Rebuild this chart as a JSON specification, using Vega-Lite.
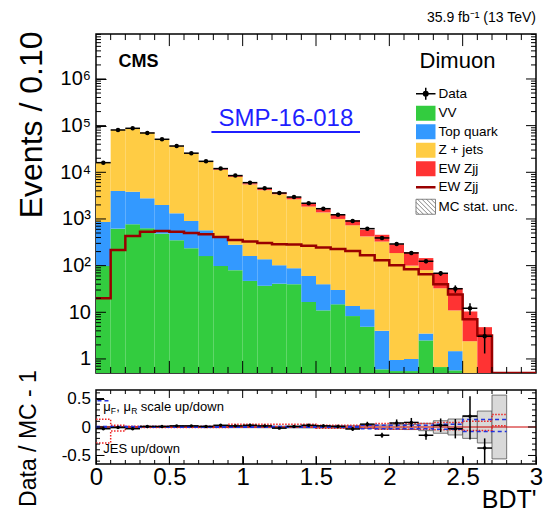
{
"$schema": "https://vega.github.io/schema/vega-lite/v6.json",
"background": "white",
"padding": {"left": 14, "top": 10, "right": 5, "bottom": 2},
"spacing": -7,
"config": {
  "font": "Liberation Sans",
  "view": {"stroke": "black", "strokeWidth": 1.5},
  "axis": {"domain": false, "grid": false, "zindex": 1, "tickColor": "black", "tickWidth": 1, "labelColor": "black", "titleColor": "black", "labelFont": "Liberation Sans", "titleFont": "Liberation Sans", "titleFontWeight": "normal", "labelFlush": false, "labelOverlap": false},
  "title": {"font": "Liberation Sans", "color": "black"}
},
"datasets": {
  "top": [
    {"lo":0.0,"hi":0.1,"c":0.05,"vv":98,"top":765,"zj":15517,"ew":20,"ewl":20,"n":16100,"nlo":15973,"nhi":16227},
    {"lo":0.1,"hi":0.2,"c":0.15,"vv":620,"top":3360,"zj":76800,"ew":217,"ewl":217,"n":80700,"nlo":80416,"nhi":80984},
    {"lo":0.2,"hi":0.3,"c":0.25,"vv":770,"top":3080,"zj":84200,"ew":432,"ewl":432,"n":87700,"nlo":87404,"nhi":87996},
    {"lo":0.3,"hi":0.4,"c":0.35,"vv":630,"top":2140,"zj":67200,"ew":535,"ewl":535,"n":69600,"nlo":69336,"nhi":69864},
    {"lo":0.4,"hi":0.5,"c":0.45,"vv":485,"top":1515,"zj":48450,"ew":553,"ewl":553,"n":51000,"nlo":50774,"nhi":51226},
    {"lo":0.5,"hi":0.6,"c":0.55,"vv":350,"top":970,"zj":34745,"ew":535,"ewl":535,"n":36600,"nlo":36409,"nhi":36791},
    {"lo":0.6,"hi":0.7,"c":0.65,"vv":236,"top":669,"zj":24295,"ew":500,"ewl":500,"n":25700,"nlo":25540,"nhi":25860},
    {"lo":0.7,"hi":0.8,"c":0.75,"vv":160,"top":412,"zj":16000,"ew":470,"ewl":470,"n":17200,"nlo":17069,"nhi":17331},
    {"lo":0.8,"hi":0.9,"c":0.85,"vv":98,"top":313,"zj":10828,"ew":411,"ewl":411,"n":12000,"nlo":11890,"nhi":12110},
    {"lo":0.9,"hi":1.0,"c":0.95,"vv":80,"top":200,"zj":7695,"ew":355,"ewl":355,"n":8500,"nlo":8408,"nhi":8592},
    {"lo":1.0,"hi":1.1,"c":1.05,"vv":47,"top":114,"zj":5337,"ew":327,"ewl":327,"n":6000,"nlo":5923,"nhi":6077},
    {"lo":1.1,"hi":1.2,"c":1.15,"vv":37,"top":100,"zj":4007,"ew":306,"ewl":306,"n":4540,"nlo":4473,"nhi":4607},
    {"lo":1.2,"hi":1.3,"c":1.25,"vv":41,"top":61,"zj":3284,"ew":287,"ewl":287,"n":3600,"nlo":3540,"nhi":3660},
    {"lo":1.3,"hi":1.4,"c":1.35,"vv":40,"top":48,"zj":2550,"ew":282,"ewl":282,"n":2950,"nlo":2896,"nhi":3004},
    {"lo":1.4,"hi":1.5,"c":1.45,"vv":16.6,"top":43.4,"zj":1781,"ew":266,"ewl":266,"n":2170,"nlo":2123,"nhi":2217},
    {"lo":1.5,"hi":1.6,"c":1.55,"vv":11,"top":29,"zj":1341,"ew":246,"ewl":246,"n":1660,"nlo":1619,"nhi":1701},
    {"lo":1.6,"hi":1.7,"c":1.65,"vv":14.8,"top":15.2,"zj":972,"ew":228,"ewl":228,"n":1230,"nlo":1195,"nhi":1265},
    {"lo":1.7,"hi":1.8,"c":1.75,"vv":8.3,"top":5.4,"zj":718,"ew":206,"ewl":206,"n":905,"nlo":875,"nhi":935},
    {"lo":1.8,"hi":1.9,"c":1.85,"vv":4.9,"top":6.7,"zj":411,"ew":167,"ewl":167,"n":620,"nlo":595,"nhi":645},
    {"lo":1.9,"hi":2.0,"c":1.95,"vv":0.6,"top":3.4,"zj":324,"ew":130,"ewl":130,"n":392,"nlo":372,"nhi":412},
    {"lo":2.0,"hi":2.1,"c":2.05,"vv":0.55,"top":0.4,"zj":185,"ew":102,"ewl":102,"n":291,"nlo":274,"nhi":308},
    {"lo":2.1,"hi":2.2,"c":2.15,"vv":0.55,"top":0.45,"zj":99,"ew":95,"ewl":84,"n":187,"nlo":173,"nhi":201},
    {"lo":2.2,"hi":2.3,"c":2.25,"vv":2.5,"top":1.0,"zj":76.5,"ew":65,"ewl":65,"n":124,"nlo":113,"nhi":135},
    {"lo":2.3,"hi":2.4,"c":2.35,"vv":0.67,"zj":32,"ew":34,"ewl":40,"n":68.5,"nlo":60.2,"nhi":76.8},
    {"lo":2.4,"hi":2.5,"c":2.45,"vv":0.57,"top":0.9,"zj":9.5,"ew":22,"ewl":24,"n":32,"nlo":26.3,"nhi":37.7},
    {"lo":2.5,"hi":2.6,"c":2.55,"zj":2.4,"ew":8.0,"ewl":7.1,"n":12.2,"nlo":8.7,"nhi":15.7},
    {"lo":2.6,"hi":2.7,"c":2.65,"zj":0.2,"ew":4.6,"ewl":3.2,"n":3.06,"nlo":1.31,"nhi":4.8},
    {"lo":2.7,"ewl":0.01},
    {"lo":2.8,"ewl":0.01},
    {"lo":2.9,"ewl":0.01},
    {"lo":3.0,"ewl":0.01}
  ],
  "ratio": [
    {"lo":0.0,"hi":0.1,"c":0.05,"r":-0.03,"rlo":-0.038,"rhi":-0.022,"slo":-0.01,"shi":0.01},
    {"lo":0.1,"hi":0.2,"c":0.15,"r":-0.01,"rlo":-0.014,"rhi":-0.006,"slo":-0.008,"shi":0.008},
    {"lo":0.2,"hi":0.3,"c":0.25,"r":-0.03,"rlo":-0.034,"rhi":-0.026,"slo":-0.008,"shi":0.008},
    {"lo":0.3,"hi":0.4,"c":0.35,"r":0.01,"rlo":0.006,"rhi":0.014,"slo":-0.008,"shi":0.008},
    {"lo":0.4,"hi":0.5,"c":0.45,"r":0.01,"rlo":0.005,"rhi":0.015,"slo":-0.008,"shi":0.008},
    {"lo":0.5,"hi":0.6,"c":0.55,"r":0.02,"rlo":0.015,"rhi":0.025,"slo":-0.008,"shi":0.008},
    {"lo":0.6,"hi":0.7,"c":0.65,"r":0.02,"rlo":0.014,"rhi":0.026,"slo":-0.008,"shi":0.008},
    {"lo":0.7,"hi":0.8,"c":0.75,"r":0.01,"rlo":0.002,"rhi":0.018,"slo":-0.01,"shi":0.01},
    {"lo":0.8,"hi":0.9,"c":0.85,"r":0.03,"rlo":0.021,"rhi":0.039,"slo":-0.01,"shi":0.01},
    {"lo":0.9,"hi":1.0,"c":0.95,"r":0.02,"rlo":0.009,"rhi":0.031,"slo":-0.012,"shi":0.012},
    {"lo":1.0,"hi":1.1,"c":1.05,"r":0.03,"rlo":0.017,"rhi":0.043,"slo":-0.012,"shi":0.012},
    {"lo":1.1,"hi":1.2,"c":1.15,"r":0.02,"rlo":0.005,"rhi":0.035,"slo":-0.013,"shi":0.013},
    {"lo":1.2,"hi":1.3,"c":1.25,"r":-0.02,"rlo":-0.037,"rhi":-0.003,"slo":-0.014,"shi":0.014},
    {"lo":1.3,"hi":1.4,"c":1.35,"r":0.01,"rlo":-0.008,"rhi":0.028,"slo":-0.015,"shi":0.015},
    {"lo":1.4,"hi":1.5,"c":1.45,"r":0.03,"rlo":0.009,"rhi":0.051,"slo":-0.016,"shi":0.016},
    {"lo":1.5,"hi":1.6,"c":1.55,"r":0.02,"rlo":-0.005,"rhi":0.045,"slo":-0.018,"shi":0.018},
    {"lo":1.6,"hi":1.7,"c":1.65,"r":0.01,"rlo":-0.019,"rhi":0.039,"slo":-0.02,"shi":0.02},
    {"lo":1.7,"hi":1.8,"c":1.75,"r":-0.035,"rlo":-0.068,"rhi":-0.002,"slo":-0.022,"shi":0.022},
    {"lo":1.8,"hi":1.9,"c":1.85,"r":0.05,"rlo":0.008,"rhi":0.092,"slo":-0.025,"shi":0.025},
    {"lo":1.9,"hi":2.0,"c":1.95,"r":-0.145,"rlo":-0.188,"rhi":-0.102,"slo":-0.035,"shi":0.035},
    {"lo":2.0,"hi":2.1,"c":2.05,"r":0.07,"rlo":0.007,"rhi":0.133,"slo":-0.04,"shi":0.04},
    {"lo":2.1,"hi":2.2,"c":2.15,"r":0.08,"rlo":0.001,"rhi":0.159,"slo":-0.045,"shi":0.045},
    {"lo":2.2,"hi":2.3,"c":2.25,"r":-0.145,"rlo":-0.222,"rhi":-0.068,"slo":-0.065,"shi":0.065},
    {"lo":2.3,"hi":2.4,"c":2.35,"r":0.03,"rlo":-0.09,"rhi":0.15,"slo":-0.11,"shi":0.11},
    {"lo":2.4,"hi":2.5,"c":2.45,"r":-0.03,"rlo":-0.2,"rhi":0.14,"slo":-0.14,"shi":0.14},
    {"lo":2.5,"hi":2.6,"c":2.55,"r":0.19,"rlo":-0.22,"rhi":0.54,"slo":-0.2,"shi":0.2},
    {"lo":2.6,"hi":2.7,"c":2.65,"r":-0.37,"rlo":-0.9,"rhi":-0.2,"slo":-0.28,"shi":0.28},
    {"lo":2.7,"hi":2.8,"c":2.75,"r":null,"rlo":null,"rhi":null,"slo":-0.56,"shi":0.56}
  ],
  "syst": [
    {"line":"jesup","x":0.0,"r":0.135},{"line":"jesup","x":0.1,"r":0.03},{"line":"jesup","x":0.2,"r":0.015},{"line":"jesup","x":0.9,"r":0.05},{"line":"jesup","x":1.5,"r":0.03},{"line":"jesup","x":1.9,"r":0.06},{"line":"jesup","x":2.3,"r":0.08},{"line":"jesup","x":2.5,"r":0.1},{"line":"jesup","x":2.7,"r":0.22},{"line":"jesup","x":2.8,"r":0.22},
    {"line":"jesdn","x":0.0,"r":-0.28},{"line":"jesdn","x":0.1,"r":-0.07},{"line":"jesdn","x":0.2,"r":-0.01},{"line":"jesdn","x":0.9,"r":0.0},{"line":"jesdn","x":1.5,"r":-0.02},{"line":"jesdn","x":1.9,"r":-0.04},{"line":"jesdn","x":2.3,"r":-0.05},{"line":"jesdn","x":2.5,"r":-0.06},{"line":"jesdn","x":2.7,"r":0.02},{"line":"jesdn","x":2.8,"r":0.02},
    {"line":"scup","x":0.0,"r":0.008},{"line":"scup","x":1.8,"r":0.03},{"line":"scup","x":2.3,"r":0.05},{"line":"scup","x":2.5,"r":0.13},{"line":"scup","x":2.8,"r":0.13},
    {"line":"scdn","x":0.0,"r":-0.005},{"line":"scdn","x":1.8,"r":-0.03},{"line":"scdn","x":2.3,"r":-0.04},{"line":"scdn","x":2.5,"r":-0.08},{"line":"scdn","x":2.8,"r":-0.08}
  ],
  "xt": [
    {"v":0.5,"k":"M"},{"v":1,"k":"M"},{"v":1.5,"k":"M"},{"v":2,"k":"M"},{"v":2.5,"k":"M"},
    {"v":0.1,"k":"m"},{"v":0.2,"k":"m"},{"v":0.3,"k":"m"},{"v":0.4,"k":"m"},{"v":0.6,"k":"m"},{"v":0.7,"k":"m"},{"v":0.8,"k":"m"},{"v":0.9,"k":"m"},
    {"v":1.1,"k":"m"},{"v":1.2,"k":"m"},{"v":1.3,"k":"m"},{"v":1.4,"k":"m"},{"v":1.6,"k":"m"},{"v":1.7,"k":"m"},{"v":1.8,"k":"m"},{"v":1.9,"k":"m"},
    {"v":2.1,"k":"m"},{"v":2.2,"k":"m"},{"v":2.3,"k":"m"},{"v":2.4,"k":"m"},{"v":2.6,"k":"m"},{"v":2.7,"k":"m"},{"v":2.8,"k":"m"},{"v":2.9,"k":"m"}
  ],
  "yt": [
    {"v":1,"k":"M"},{"v":10,"k":"M"},{"v":100,"k":"M"},{"v":1000,"k":"M"},{"v":10000,"k":"M"},{"v":100000,"k":"M"},{"v":1000000,"k":"M"},
    {"v":0.6,"k":"m"},{"v":0.7,"k":"m"},{"v":0.8,"k":"m"},{"v":0.9,"k":"m"},
    {"v":2,"k":"m"},{"v":3,"k":"m"},{"v":4,"k":"m"},{"v":5,"k":"m"},{"v":6,"k":"m"},{"v":7,"k":"m"},{"v":8,"k":"m"},{"v":9,"k":"m"},
    {"v":20,"k":"m"},{"v":30,"k":"m"},{"v":40,"k":"m"},{"v":50,"k":"m"},{"v":60,"k":"m"},{"v":70,"k":"m"},{"v":80,"k":"m"},{"v":90,"k":"m"},
    {"v":200,"k":"m"},{"v":300,"k":"m"},{"v":400,"k":"m"},{"v":500,"k":"m"},{"v":600,"k":"m"},{"v":700,"k":"m"},{"v":800,"k":"m"},{"v":900,"k":"m"},
    {"v":2000,"k":"m"},{"v":3000,"k":"m"},{"v":4000,"k":"m"},{"v":5000,"k":"m"},{"v":6000,"k":"m"},{"v":7000,"k":"m"},{"v":8000,"k":"m"},{"v":9000,"k":"m"},
    {"v":20000,"k":"m"},{"v":30000,"k":"m"},{"v":40000,"k":"m"},{"v":50000,"k":"m"},{"v":60000,"k":"m"},{"v":70000,"k":"m"},{"v":80000,"k":"m"},{"v":90000,"k":"m"},
    {"v":200000,"k":"m"},{"v":300000,"k":"m"},{"v":400000,"k":"m"},{"v":500000,"k":"m"},{"v":600000,"k":"m"},{"v":700000,"k":"m"},{"v":800000,"k":"m"},{"v":900000,"k":"m"},
    {"v":2000000,"k":"m"},{"v":3000000,"k":"m"},{"v":4000000,"k":"m"},{"v":5000000,"k":"m"},{"v":6000000,"k":"m"},{"v":7000000,"k":"m"},{"v":8000000,"k":"m"},{"v":9000000,"k":"m"}
  ],
  "rt": [
    {"v":-0.5,"k":"M"},{"v":0,"k":"M"},{"v":0.5,"k":"M"},
    {"v":-0.6,"k":"m"},{"v":-0.4,"k":"m"},{"v":-0.3,"k":"m"},{"v":-0.2,"k":"m"},{"v":-0.1,"k":"m"},{"v":0.1,"k":"m"},{"v":0.2,"k":"m"},{"v":0.3,"k":"m"},{"v":0.4,"k":"m"},{"v":0.6,"k":"m"}
  ]
},
"vconcat": [
  {
    "width": 440, "height": 339,
    "title": {"text": "35.9 fb⁻¹ (13 TeV)", "anchor": "end", "frame": "group", "fontSize": 14, "fontWeight": "normal", "offset": 6},
    "resolve": {"axis": {"x": "independent", "y": "independent"}},
    "layer": [
      {
        "data": {"name": "top"},
        "transform": [
          {"fold": ["vv", "top", "zj", "ew"], "as": ["comp", "value"]},
          {"filter": "datum.value > 0"},
          {"stack": "value", "groupby": ["lo"], "as": ["y0", "y1"]}
        ],
        "mark": {"type": "rect", "clip": true},
        "encoding": {
          "x": {"field": "lo", "type": "quantitative", "scale": {"domain": [0, 3], "nice": false, "zero": false}, "axis": null},
          "x2": {"field": "hi"},
          "y": {"field": "y1", "type": "quantitative",
                "scale": {"type": "log", "domain": [0.5, 9200000], "nice": false, "clamp": true},
                "axis": {"orient": "left", "values": [1,10,100,1000,10000,100000,1000000],
                         "labelExpr": "datum.value < 5 ? '1' : (datum.value < 50 ? '10' : '10' + ['⁰','¹','²','³','⁴','⁵','⁶','⁷'][round(log(datum.value)/LN10)])",
                         "labelFontSize": 20, "labelPadding": 5.5, "tickSize": 10, "offset": -10,
                         "title": "Events / 0.10", "titleFontSize": 32, "titleAngle": -90, "titleAlign": "right", "titleBaseline": "middle", "titleX": -75, "titleY": -3}},
          "y2": {"field": "y0"},
          "fill": {"field": "comp", "type": "nominal",
                   "scale": {"domain": ["data", "vv", "top", "zj", "ew", "ewline", "mcstat"],
                             "range": ["#000000", "#33cc3f", "#3399ff", "#ffcc44", "#ff3333", "#990000", "#ffffff"]},
                   "legend": {"title": null, "orient": "none", "legendX": 323, "legendY": 53, "padding": 0,
                              "symbolSize": 225, "rowPadding": 2.5, "labelFontSize": 13.5, "labelFont": "Liberation Sans", "labelColor": "black", "labelOffset": 6, "labelLimit": 200,
                              "labelExpr": "datum.label == 'data' ? 'Data' : datum.label == 'vv' ? 'VV' : datum.label == 'top' ? 'Top quark' : datum.label == 'zj' ? 'Z + jets' : datum.label == 'mcstat' ? 'MC stat. unc.' : 'EW Zjj'",
                              "encode": {"symbols": {"update": {
                                "shape": {"signal": "datum.value == 'data' ? 'M-1.3,0H1.3M0,-0.8V0.8M-0.3,0A0.3,0.3,0,1,1,0.3,0A0.3,0.3,0,1,1,-0.3,0Z' : datum.value == 'ewline' ? 'M-1.3,0H1.3' : datum.value == 'mcstat' ? 'M-1.3,-1H1.3V1H-1.3Z M-1.3,0.6L-0.9,1 M-1.3,0L-0.3,1 M-1.3,-0.6L0.3,1 M-1.1,-1L0.9,1 M-0.5,-1L1.3,0.8 M0.1,-1L1.3,0.2 M0.7,-1L1.3,-0.4' : 'M-1.3,-1H1.3V1H-1.3Z'"},
                                "fill": {"signal": "datum.value == 'data' ? 'black' : datum.value == 'vv' ? '#33cc3f' : datum.value == 'top' ? '#3399ff' : datum.value == 'zj' ? '#ffcc44' : datum.value == 'ew' ? '#ff3333' : datum.value == 'mcstat' ? 'white' : 'transparent'"},
                                "stroke": {"signal": "datum.value == 'data' ? 'black' : datum.value == 'ewline' ? '#990000' : datum.value == 'mcstat' ? '#666666' : 'transparent'"},
                                "strokeWidth": {"signal": "datum.value == 'data' ? 1.5 : datum.value == 'ewline' ? 2.5 : datum.value == 'mcstat' ? 0.8 : 0"},
                                "opacity": {"value": 1}
                              }}}}}
        }
      },
      {
        "data": {"name": "top"},
        "mark": {"type": "line", "interpolate": "step-after", "color": "#990000", "strokeWidth": 2.5, "clip": true},
        "encoding": {
          "x": {"field": "lo", "type": "quantitative", "axis": null},
          "y": {"field": "ewl", "type": "quantitative", "axis": null}
        }
      },
      {
        "data": {"name": "top"},
        "mark": {"type": "rule", "color": "black", "strokeWidth": 1.5, "clip": true},
        "encoding": {
          "x": {"field": "c", "type": "quantitative", "axis": null},
          "y": {"field": "nlo", "type": "quantitative", "axis": null},
          "y2": {"field": "nhi"}
        }
      },
      {
        "data": {"name": "top"},
        "mark": {"type": "rule", "color": "black", "strokeWidth": 1.5, "clip": true},
        "encoding": {
          "x": {"field": "lo", "type": "quantitative", "axis": null},
          "x2": {"field": "hi"},
          "y": {"field": "n", "type": "quantitative", "axis": null}
        }
      },
      {
        "data": {"name": "top"},
        "mark": {"type": "circle", "color": "black", "size": 20, "opacity": 1, "clip": true},
        "encoding": {
          "x": {"field": "c", "type": "quantitative", "axis": null},
          "y": {"field": "n", "type": "quantitative", "axis": null}
        }
      },
      {
        "data": {"name": "xt"}, "transform": [{"filter": "datum.k == 'M'"}],
        "mark": {"type": "rule", "color": "black", "strokeWidth": 1},
        "encoding": {"x": {"field": "v", "type": "quantitative", "axis": null}, "y": {"datum": 0.5, "type": "quantitative", "axis": null}, "y2": {"datum": 0.907}}
      },
      {
        "data": {"name": "xt"}, "transform": [{"filter": "datum.k == 'm'"}],
        "mark": {"type": "rule", "color": "black", "strokeWidth": 1},
        "encoding": {"x": {"field": "v", "type": "quantitative", "axis": null}, "y": {"datum": 0.5, "type": "quantitative", "axis": null}, "y2": {"datum": 0.673}}
      },
      {
        "data": {"name": "xt"}, "transform": [{"filter": "datum.k == 'M'"}],
        "mark": {"type": "rule", "color": "black", "strokeWidth": 1},
        "encoding": {"x": {"field": "v", "type": "quantitative", "axis": null}, "y": {"datum": 9200000, "type": "quantitative", "axis": null}, "y2": {"datum": 5070000}}
      },
      {
        "data": {"name": "xt"}, "transform": [{"filter": "datum.k == 'm'"}],
        "mark": {"type": "rule", "color": "black", "strokeWidth": 1},
        "encoding": {"x": {"field": "v", "type": "quantitative", "axis": null}, "y": {"datum": 9200000, "type": "quantitative", "axis": null}, "y2": {"datum": 6830000}}
      },
      {
        "data": {"name": "yt"}, "transform": [{"filter": "datum.k == 'M'"}],
        "mark": {"type": "rule", "color": "black", "strokeWidth": 1},
        "encoding": {"y": {"field": "v", "type": "quantitative", "axis": null}, "x": {"datum": 0, "type": "quantitative", "axis": null}, "x2": {"datum": 0.068}}
      },
      {
        "data": {"name": "yt"}, "transform": [{"filter": "datum.k == 'm'"}],
        "mark": {"type": "rule", "color": "black", "strokeWidth": 1},
        "encoding": {"y": {"field": "v", "type": "quantitative", "axis": null}, "x": {"datum": 0, "type": "quantitative", "axis": null}, "x2": {"datum": 0.034}}
      },
      {
        "data": {"name": "yt"}, "transform": [{"filter": "datum.k == 'M'"}],
        "mark": {"type": "rule", "color": "black", "strokeWidth": 1},
        "encoding": {"y": {"field": "v", "type": "quantitative", "axis": null}, "x": {"datum": 3, "type": "quantitative", "axis": null}, "x2": {"datum": 2.932}}
      },
      {
        "data": {"name": "yt"}, "transform": [{"filter": "datum.k == 'm'"}],
        "mark": {"type": "rule", "color": "black", "strokeWidth": 1},
        "encoding": {"y": {"field": "v", "type": "quantitative", "axis": null}, "x": {"datum": 3, "type": "quantitative", "axis": null}, "x2": {"datum": 2.966}}
      },
      {
        "data": {"values": [{}]},
        "mark": {"type": "text", "text": "CMS", "fontSize": 18, "fontWeight": "bold", "align": "left", "baseline": "middle", "font": "Liberation Sans", "color": "black"},
        "encoding": {"x": {"datum": 0.153, "type": "quantitative", "axis": null}, "y": {"datum": 2300000, "type": "quantitative", "axis": null}}
      },
      {
        "data": {"values": [{}]},
        "mark": {"type": "text", "text": "Dimuon", "fontSize": 22, "align": "right", "baseline": "middle", "font": "Liberation Sans", "color": "black"},
        "encoding": {"x": {"datum": 2.723, "type": "quantitative", "axis": null}, "y": {"datum": 2400000, "type": "quantitative", "axis": null}}
      },
      {
        "data": {"values": [{}]},
        "mark": {"type": "text", "text": "SMP-16-018", "fontSize": 24, "align": "center", "baseline": "middle", "font": "Liberation Sans", "color": "#1f1fff"},
        "encoding": {"x": {"datum": 1.295, "type": "quantitative", "axis": null}, "y": {"datum": 138000, "type": "quantitative", "axis": null}}
      },
      {
        "data": {"values": [{}]},
        "mark": {"type": "rule", "color": "#1f1fff", "strokeWidth": 2},
        "encoding": {"x": {"datum": 0.787, "type": "quantitative", "axis": null}, "x2": {"datum": 1.8}, "y": {"datum": 73000, "type": "quantitative", "axis": null}}
      }
    ]
  },
  {
    "width": 440, "height": 74,
    "resolve": {"axis": {"x": "independent", "y": "independent"}},
    "layer": [
      {
        "data": {"name": "ratio"},
        "mark": {"type": "rect", "fill": "#d9d9d9", "stroke": "#555555", "strokeWidth": 0.8, "clip": true},
        "encoding": {
          "x": {"field": "lo", "type": "quantitative", "scale": {"domain": [0, 3], "nice": false, "zero": false},
                "axis": {"orient": "bottom", "values": [0,0.5,1,1.5,2,2.5,3], "format": "~g",
                         "labelFontSize": 24, "labelPadding": 1, "tickSize": 8, "offset": -8,
                         "title": "BDT'", "titleFontSize": 25, "titleAlign": "right", "titleBaseline": "alphabetic", "titleX": 440, "titleY": 51}},
          "x2": {"field": "hi"},
          "y": {"field": "slo", "type": "quantitative", "scale": {"domain": [-0.65, 0.65], "nice": false, "zero": false},
                "axis": {"orient": "left", "values": [-0.5, 0, 0.5],
                         "labelExpr": "datum.value > 0.4 ? '0.5' : (datum.value < -0.4 ? '-0.5' : '0')",
                         "labelFontSize": 17, "labelPadding": 5.5, "tickSize": 8, "offset": -8,
                         "title": "Data / MC - 1", "titleFontSize": 23, "titleAngle": -90, "titleAlign": "center", "titleBaseline": "middle", "titleX": -76, "titleY": 48}},
          "y2": {"field": "shi"}
        }
      },
      {
        "data": {"values": [{}]},
        "mark": {"type": "rule", "color": "#cc0000", "strokeWidth": 1},
        "encoding": {"y": {"datum": 0, "type": "quantitative", "axis": null}}
      },
      {
        "data": {"name": "syst"},
        "mark": {"type": "line", "interpolate": "step-after", "strokeWidth": 1.5, "clip": true},
        "encoding": {
          "x": {"field": "x", "type": "quantitative", "axis": null},
          "y": {"field": "r", "type": "quantitative", "axis": null},
          "detail": {"field": "line", "type": "nominal"},
          "color": {"field": "line", "type": "nominal", "scale": {"domain": ["jesup", "jesdn", "scup", "scdn"], "range": ["#ee2222", "#ee2222", "#2233dd", "#2233dd"]}, "legend": null},
          "strokeDash": {"field": "line", "type": "nominal", "scale": {"domain": ["jesup", "jesdn", "scup", "scdn"], "range": [[1.5, 1.5], [1.5, 1.5], [4, 3], [4, 3]]}, "legend": null}
        }
      },
      {
        "data": {"values": [{}]},
        "mark": {"type": "rule", "color": "#2233dd", "strokeWidth": 1.5, "strokeDash": [4, 3]},
        "encoding": {"x": {"datum": 0.01, "type": "quantitative", "axis": null}, "x2": {"datum": 0.1}, "y": {"datum": 0.46, "type": "quantitative", "axis": null}}
      },
      {
        "data": {"name": "ratio"},
        "mark": {"type": "rule", "color": "black", "strokeWidth": 1.5, "clip": true},
        "encoding": {
          "x": {"field": "c", "type": "quantitative", "axis": null},
          "y": {"field": "rlo", "type": "quantitative", "axis": null},
          "y2": {"field": "rhi"}
        }
      },
      {
        "data": {"name": "ratio"},
        "mark": {"type": "rule", "color": "black", "strokeWidth": 1.5, "clip": true},
        "encoding": {
          "x": {"field": "lo", "type": "quantitative", "axis": null},
          "x2": {"field": "hi"},
          "y": {"field": "r", "type": "quantitative", "axis": null}
        }
      },
      {
        "data": {"name": "ratio"},
        "mark": {"type": "circle", "color": "black", "size": 12, "opacity": 1, "clip": true},
        "encoding": {
          "x": {"field": "c", "type": "quantitative", "axis": null},
          "y": {"field": "r", "type": "quantitative", "axis": null}
        }
      },
      {
        "data": {"name": "xt"}, "transform": [{"filter": "datum.k == 'M'"}],
        "mark": {"type": "rule", "color": "black", "strokeWidth": 1},
        "encoding": {"x": {"field": "v", "type": "quantitative", "axis": null}, "y": {"datum": -0.65, "type": "quantitative", "axis": null}, "y2": {"datum": -0.5095}}
      },
      {
        "data": {"name": "xt"}, "transform": [{"filter": "datum.k == 'm'"}],
        "mark": {"type": "rule", "color": "black", "strokeWidth": 1},
        "encoding": {"x": {"field": "v", "type": "quantitative", "axis": null}, "y": {"datum": -0.65, "type": "quantitative", "axis": null}, "y2": {"datum": -0.5797}}
      },
      {
        "data": {"name": "xt"}, "transform": [{"filter": "datum.k == 'M'"}],
        "mark": {"type": "rule", "color": "black", "strokeWidth": 1},
        "encoding": {"x": {"field": "v", "type": "quantitative", "axis": null}, "y": {"datum": 0.65, "type": "quantitative", "axis": null}, "y2": {"datum": 0.5095}}
      },
      {
        "data": {"name": "xt"}, "transform": [{"filter": "datum.k == 'm'"}],
        "mark": {"type": "rule", "color": "black", "strokeWidth": 1},
        "encoding": {"x": {"field": "v", "type": "quantitative", "axis": null}, "y": {"datum": 0.65, "type": "quantitative", "axis": null}, "y2": {"datum": 0.5797}}
      },
      {
        "data": {"name": "rt"}, "transform": [{"filter": "datum.k == 'M'"}],
        "mark": {"type": "rule", "color": "black", "strokeWidth": 1},
        "encoding": {"y": {"field": "v", "type": "quantitative", "axis": null}, "x": {"datum": 0, "type": "quantitative", "axis": null}, "x2": {"datum": 0.0545}}
      },
      {
        "data": {"name": "rt"}, "transform": [{"filter": "datum.k == 'm'"}],
        "mark": {"type": "rule", "color": "black", "strokeWidth": 1},
        "encoding": {"y": {"field": "v", "type": "quantitative", "axis": null}, "x": {"datum": 0, "type": "quantitative", "axis": null}, "x2": {"datum": 0.0273}}
      },
      {
        "data": {"name": "rt"}, "transform": [{"filter": "datum.k == 'M'"}],
        "mark": {"type": "rule", "color": "black", "strokeWidth": 1},
        "encoding": {"y": {"field": "v", "type": "quantitative", "axis": null}, "x": {"datum": 3, "type": "quantitative", "axis": null}, "x2": {"datum": 2.9455}}
      },
      {
        "data": {"name": "rt"}, "transform": [{"filter": "datum.k == 'm'"}],
        "mark": {"type": "rule", "color": "black", "strokeWidth": 1},
        "encoding": {"y": {"field": "v", "type": "quantitative", "axis": null}, "x": {"datum": 3, "type": "quantitative", "axis": null}, "x2": {"datum": 2.9727}}
      },
      {
        "data": {"values": [{}]},
        "mark": {"type": "text", "text": "μ", "fontSize": 13, "align": "left", "baseline": "middle", "font": "Liberation Sans", "color": "black"},
        "encoding": {"x": {"datum": 0.05, "type": "quantitative", "axis": null}, "y": {"datum": 0.36, "type": "quantitative", "axis": null}}
      },
      {
        "data": {"values": [{}]},
        "mark": {"type": "text", "text": "F", "fontSize": 8.5, "align": "left", "baseline": "middle", "font": "Liberation Sans", "color": "black", "dx": 7.5, "dy": 4},
        "encoding": {"x": {"datum": 0.05, "type": "quantitative", "axis": null}, "y": {"datum": 0.36, "type": "quantitative", "axis": null}}
      },
      {
        "data": {"values": [{}]},
        "mark": {"type": "text", "text": ", μ", "fontSize": 13, "align": "left", "baseline": "middle", "font": "Liberation Sans", "color": "black", "dx": 13},
        "encoding": {"x": {"datum": 0.05, "type": "quantitative", "axis": null}, "y": {"datum": 0.36, "type": "quantitative", "axis": null}}
      },
      {
        "data": {"values": [{}]},
        "mark": {"type": "text", "text": "R", "fontSize": 8.5, "align": "left", "baseline": "middle", "font": "Liberation Sans", "color": "black", "dx": 28, "dy": 4},
        "encoding": {"x": {"datum": 0.05, "type": "quantitative", "axis": null}, "y": {"datum": 0.36, "type": "quantitative", "axis": null}}
      },
      {
        "data": {"values": [{}]},
        "mark": {"type": "text", "text": "scale up/down", "fontSize": 13, "align": "left", "baseline": "middle", "font": "Liberation Sans", "color": "black", "dx": 37.5},
        "encoding": {"x": {"datum": 0.05, "type": "quantitative", "axis": null}, "y": {"datum": 0.36, "type": "quantitative", "axis": null}}
      },
      {
        "data": {"values": [{}]},
        "mark": {"type": "text", "text": "JES up/down", "fontSize": 13, "align": "left", "baseline": "middle", "font": "Liberation Sans", "color": "black"},
        "encoding": {"x": {"datum": 0.05, "type": "quantitative", "axis": null}, "y": {"datum": -0.39, "type": "quantitative", "axis": null}}
      }
    ]
  }
]
}
